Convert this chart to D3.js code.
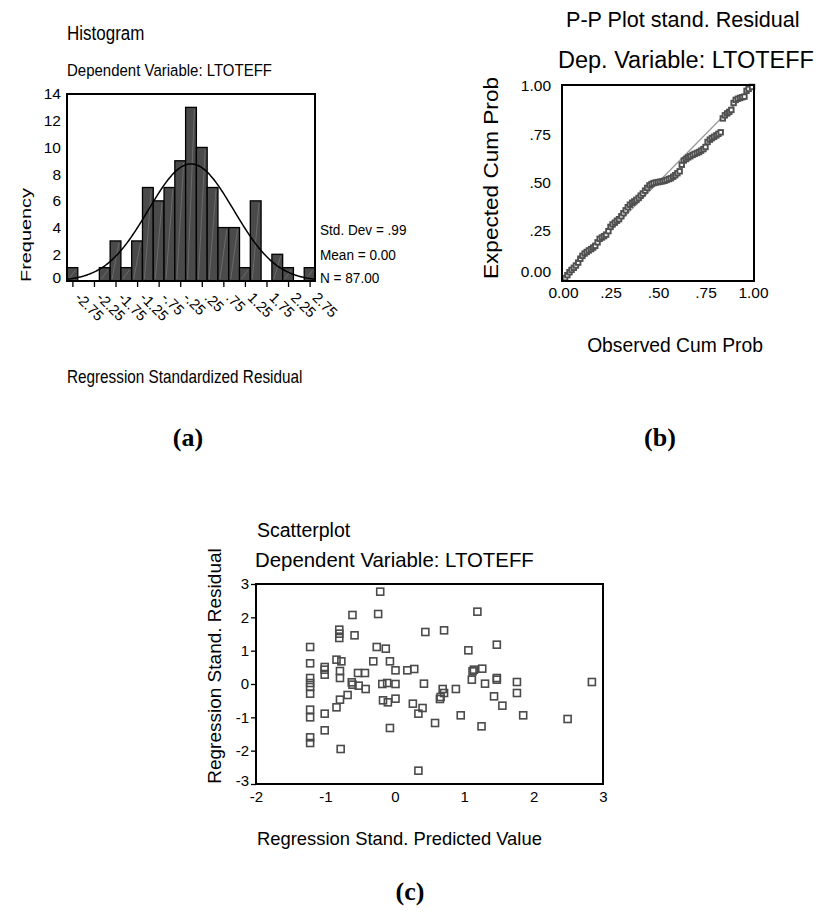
<!DOCTYPE html>
<html>
<head>
<meta charset="utf-8">
<script src="https://cdn.jsdelivr.net/npm/d3@7"></script>
<style>
  html, body { margin: 0; padding: 0; background: #fff; }
  svg { display: block; font-family: "Liberation Sans", Arial, Helvetica, sans-serif; }
  .lbl { font-family: "Liberation Serif", "Times New Roman", serif; font-weight: bold; }
</style>
</head>
<body>
<svg id="fig" width="821" height="916"></svg>
<script>
// ---------- (a) histogram of standardized residuals ----------
const histBinMids = [-2.75, -2.5, -2.25, -2, -1.75, -1.5, -1.25, -1, -0.75, -0.5, -0.25, 0,
                     0.25, 0.5, 0.75, 1, 1.25, 1.5, 1.75, 2, 2.25, 2.5, 2.75];
const histCounts  = [1, 0, 0, 1, 3, 1, 3, 7, 6, 7, 9, 13, 10, 7, 4, 4, 1, 6, 0, 2, 1, 0, 1];
const histTickValues = [-2.75, -2.25, -1.75, -1.25, -0.75, -0.25, 0.25, 0.75, 1.25, 1.75, 2.25, 2.75];
const histTickLabels = ["-2.75", "-2.25", "-1.75", "-1.25", "-.75", "-.25", ".25", ".75", "1.25", "1.75", "2.25", "2.75"];
const histYTicks = [0, 2, 4, 6, 8, 10, 12, 14];
const histStats = ["Std. Dev = .99", "Mean = 0.00", "N = 87.00"];
const residMean = 0.00, residSd = 0.99, residN = 87, binWidth = 0.25;

// ---------- (b) normal P-P plot ----------
const ppObserved = [0.011, 0.023, 0.034, 0.045, 0.057, 0.068, 0.080, 0.091, 0.102, 0.114, 0.125, 0.136,
  0.148, 0.159, 0.170, 0.182, 0.193, 0.205, 0.216, 0.227, 0.239, 0.250, 0.261, 0.273, 0.284, 0.295,
  0.307, 0.318, 0.330, 0.341, 0.352, 0.364, 0.375, 0.386, 0.398, 0.409, 0.420, 0.432, 0.443, 0.455,
  0.466, 0.477, 0.489, 0.500, 0.511, 0.523, 0.534, 0.545, 0.557, 0.568, 0.580, 0.591, 0.602, 0.614,
  0.625, 0.636, 0.648, 0.659, 0.670, 0.682, 0.693, 0.705, 0.716, 0.727, 0.739, 0.750, 0.761, 0.773,
  0.784, 0.795, 0.807, 0.818, 0.830, 0.841, 0.852, 0.864, 0.875, 0.886, 0.898, 0.909, 0.920, 0.932,
  0.943, 0.955, 0.966, 0.977, 0.995];
const ppExpected = [0.005, 0.020, 0.035, 0.047, 0.058, 0.070, 0.085, 0.105, 0.120, 0.132, 0.140, 0.148,
  0.155, 0.163, 0.172, 0.190, 0.208, 0.215, 0.222, 0.230, 0.248, 0.270, 0.283, 0.292, 0.302, 0.310,
  0.325, 0.341, 0.356, 0.372, 0.385, 0.395, 0.402, 0.410, 0.420, 0.432, 0.443, 0.458, 0.472, 0.485,
  0.492, 0.497, 0.500, 0.502, 0.504, 0.506, 0.509, 0.513, 0.518, 0.522, 0.530, 0.538, 0.548, 0.558,
  0.592, 0.614, 0.622, 0.630, 0.636, 0.643, 0.648, 0.653, 0.658, 0.665, 0.673, 0.684, 0.710, 0.722,
  0.730, 0.737, 0.744, 0.752, 0.760, 0.832, 0.848, 0.858, 0.866, 0.876, 0.912, 0.928, 0.934, 0.938,
  0.942, 0.945, 0.975, 0.985, 0.995];
const ppTickValues = [0, 0.25, 0.5, 0.75, 1];
const ppTickLabels = ["0.00", ".25", ".50", ".75", "1.00"];

// ---------- (c) residuals vs predicted values ----------
const scatterPred = [
  -1.22, -1.22, -1.22, -1.22, -1.22, -1.22, -1.22, -1.22, -1.22, -1.22,
  -1.01, -1.01, -1.01, -1.01, -1.01,
  -0.80, -0.80, -0.80, -0.84, -0.77, -0.79, -0.79, -0.84, -0.79, -0.78,
  -0.61, -0.58, -0.68, -0.62, -0.61, -0.53, -0.52, -0.43, -0.42, -0.31,
  -0.24, -0.21, -0.26, -0.13, -0.07, 0.01, -0.18, -0.11, 0.01, -0.17, -0.10, 0.01, -0.07,
  1.19, 0.44, 0.71, 1.06, 1.47, 0.18, 0.28, 0.42, 0.69, 0.71, 0.66, 0.65, 0.88, 1.12, 1.14,
  1.26, 1.11, 1.30, 1.47, 1.47, 1.76, 1.76, 2.84, 1.43, 1.55, 1.85, 2.49, 1.25, 0.95, 0.58,
  0.26, 0.34, 0.40, 0.34];
const scatterResid = [
  1.11, 0.62, 0.18, 0.03, -0.09, -0.29, -0.77, -1.00, -1.60, -1.77,
  0.51, 0.43, 0.28, -0.89, -1.39,
  1.63, 1.51, 1.38, 0.73, 0.68, 0.39, 0.18, -0.70, -0.47, -1.95,
  2.07, 1.46, -0.33, 0.05, -0.02, 0.33, -0.05, 0.33, -0.15, 0.68,
  2.10, 2.77, 1.11, 1.06, 0.68, 0.41, 0.00, 0.03, 0.00, -0.49, -0.55, -0.44, -1.32,
  2.17, 1.56, 1.61, 1.01, 1.18, 0.41, 0.45, 0.01, -0.15, -0.27, -0.39, -0.45, -0.15, 0.38, 0.43,
  0.46, 0.13, 0.01, 0.18, 0.13, 0.06, -0.27, 0.06, -0.37, -0.65, -0.94, -1.05, -1.27, -0.94, -1.17,
  -0.59, -0.89, -0.72, -2.60];
const scatterTicksX = [-2, -1, 0, 1, 2, 3];
const scatterTicksY = [-3, -2, -1, 0, 1, 2, 3];

const svg = d3.select("#fig");
svg.append("rect").attr("width", 821).attr("height", 916).attr("fill", "#fff");

function addText(g, str, x, y, size, opts = {}) {
  const t = g.append("text").attr("font-size", size).attr("fill", "#000").text(str);
  const tf = [`translate(${x},${y})`];
  if (opts.stretch) tf.push(`scale(1,${opts.stretch})`);
  if (opts.rotate) tf.push(`rotate(${opts.rotate})`);
  t.attr("transform", tf.join(" "));
  if (opts.anchor) t.attr("text-anchor", opts.anchor);
  if (opts.cls) t.attr("class", opts.cls);
  if (opts.length) t.attr("textLength", opts.length).attr("lengthAdjust", "spacingAndGlyphs");
  return t;
}

// ===== Panel (a) =====
{
  const g = svg.append("g");
  const x = d3.scaleLinear().domain([-2.875, 2.875]).range([67, 315]);
  const y = d3.scaleLinear().domain([0, 14]).range([281, 94]);

  addText(g, "Histogram", 67, 40, 17, { stretch: 1.15 });
  addText(g, "Dependent Variable: LTOTEFF", 67, 76, 15, { stretch: 1.15 });

  const bins = histBinMids.map((m, i) => ({ m, c: histCounts[i] })).filter(d => d.c > 0);
  g.selectAll("rect.bar").data(bins).join("rect").attr("class", "bar")
    .attr("x", d => x(d.m - binWidth / 2))
    .attr("y", d => y(d.c))
    .attr("width", d => x(d.m + binWidth / 2) - x(d.m - binWidth / 2))
    .attr("height", d => y(0) - y(d.c))
    .attr("fill", "#4a4a4a").attr("stroke", "#000").attr("stroke-width", 1.3);
  // faint fill-pattern stroke inside each bar
  g.selectAll("line.hatch").data(bins).join("line").attr("class", "hatch")
    .attr("x1", d => x(d.m - binWidth / 2) + 2).attr("y1", y(0) - 2)
    .attr("x2", d => x(d.m + binWidth / 2) - 2).attr("y2", d => y(d.c) + 2)
    .attr("stroke", "#9a9a9a").attr("stroke-width", 0.6).attr("opacity", 0.7);

  // fitted normal curve
  const pdf = v => Math.exp(-0.5 * ((v - residMean) / residSd) ** 2) / (residSd * Math.sqrt(2 * Math.PI));
  const curve = d3.range(-2.875, 2.876, 0.025).map(v => [v, residN * binWidth * pdf(v)]);
  g.append("path").datum(curve)
    .attr("d", d3.line().x(d => x(d[0])).y(d => y(d[1])).curve(d3.curveBasis))
    .attr("fill", "none").attr("stroke", "#000").attr("stroke-width", 1.5);

  g.append("rect").attr("x", 67).attr("y", 94).attr("width", 248).attr("height", 187)
    .attr("fill", "none").attr("stroke", "#000").attr("stroke-width", 2);

  const ya = g.append("g").attr("transform", "translate(67,0)")
    .call(d3.axisLeft(y).tickValues(histYTicks).tickSize(0).tickPadding(6).tickFormat(d => String(d)));
  ya.select(".domain").remove();
  ya.selectAll("text").attr("font-size", 15.5).attr("font-family", null).attr("fill", "#000");
  ya.selectAll(".tick").filter(d => d === 0).select("text").attr("dy", "0.1em");

  const xa = g.append("g").attr("transform", "translate(0,282)")
    .call(d3.axisBottom(x).tickValues(histTickValues).tickSize(5)
      .tickFormat((d, i) => histTickLabels[i]));
  xa.select(".domain").remove();
  xa.selectAll("line").attr("stroke", "#000").attr("stroke-width", 1.3);
  xa.selectAll("text").attr("font-size", 14.5).attr("font-family", null).attr("fill", "#000")
    .attr("text-anchor", "start").attr("x", 0).attr("y", 0).attr("dy", "0.35em")
    .attr("transform", "translate(5,13) rotate(45)");

  addText(g, "Frequency", 31, 235, 15, { anchor: "middle", rotate: -90, length: 94 });
  histStats.forEach((s, i) => addText(g, s, 320, [235, 260, 283][i], 13.6, { stretch: 1.1 }));
  addText(g, "Regression Standardized Residual", 67, 383, 15.3, { stretch: 1.15 });
  addText(g, "(a)", 188, 446, 26, { anchor: "middle", cls: "lbl" });
}

// ===== Panel (b) =====
{
  const g = svg.append("g");
  const x = d3.scaleLinear().domain([0, 1]).range([563, 753]);
  const y = d3.scaleLinear().domain([0, 1]).range([279, 86]);

  addText(g, "P-P Plot stand. Residual", 566, 27, 21.6);
  addText(g, "Dep. Variable: LTOTEFF", 558, 68, 23.5);

  g.append("line").attr("x1", x(0)).attr("y1", y(0)).attr("x2", x(1)).attr("y2", y(1))
    .attr("stroke", "#9a9a9a").attr("stroke-width", 1.3);

  const pts = ppObserved.map((o, i) => [o, ppExpected[i]]);
  const s = 4.5;
  g.selectAll("rect.pt").data(pts).join("rect").attr("class", "pt")
    .attr("x", d => x(d[0]) - s / 2).attr("y", d => y(d[1]) - s / 2)
    .attr("width", s).attr("height", s)
    .attr("fill", "#fff").attr("stroke", "#4f4f4f").attr("stroke-width", 1.9);

  g.append("rect").attr("x", 562).attr("y", 85).attr("width", 192).attr("height", 196)
    .attr("fill", "none").attr("stroke", "#000").attr("stroke-width", 2);

  const ya = g.append("g").attr("transform", "translate(562,0)")
    .call(d3.axisLeft(y).tickValues(ppTickValues).tickSize(0).tickPadding(11)
      .tickFormat((d, i) => ppTickLabels[i]));
  ya.select(".domain").remove();
  ya.selectAll("text").attr("font-size", 15.5).attr("font-family", null).attr("fill", "#000");
  ya.selectAll(".tick").filter(d => d === 0).select("text").attr("dy", "-0.15em");

  const xa = g.append("g").attr("transform", "translate(0,281)")
    .call(d3.axisBottom(x).tickValues(ppTickValues).tickSize(0).tickPadding(6)
      .tickFormat((d, i) => ppTickLabels[i]));
  xa.select(".domain").remove();
  xa.selectAll("text").attr("font-size", 15.5).attr("font-family", null).attr("fill", "#000");

  addText(g, "Expected Cum Prob", 498, 178, 21, { anchor: "middle", rotate: -90, length: 202 });
  addText(g, "Observed Cum Prob", 675, 352, 19.3, { anchor: "middle" });
  addText(g, "(b)", 660, 446, 26, { anchor: "middle", cls: "lbl" });
}

// ===== Panel (c) =====
{
  const g = svg.append("g");
  const x = d3.scaleLinear().domain([-2, 3]).range([256, 603]);
  const y = d3.scaleLinear().domain([-3, 3]).range([784, 584]);

  addText(g, "Scatterplot", 257, 537, 19.5);
  addText(g, "Dependent Variable: LTOTEFF", 255, 567, 20.4);

  const pts = scatterPred.map((p, i) => [p, scatterResid[i]]);
  const s = 7;
  g.selectAll("rect.pt").data(pts).join("rect").attr("class", "pt")
    .attr("x", d => x(d[0]) - s / 2).attr("y", d => y(d[1]) - s / 2)
    .attr("width", s).attr("height", s)
    .attr("fill", "none").attr("stroke", "#4a4a4a").attr("stroke-width", 1.6);

  g.append("rect").attr("x", 256).attr("y", 584).attr("width", 347).attr("height", 200)
    .attr("fill", "none").attr("stroke", "#000").attr("stroke-width", 2);

  const ya = g.append("g").attr("transform", "translate(256,0)")
    .call(d3.axisLeft(y).tickValues(scatterTicksY).tickSize(5).tickPadding(2).tickFormat(d => String(d)));
  ya.select(".domain").remove();
  ya.selectAll("line").attr("stroke", "#000").attr("stroke-width", 1.3);
  ya.selectAll("text").attr("font-size", 15).attr("font-family", null).attr("fill", "#000");
  ya.selectAll(".tick").filter(d => d === -3).select("text").attr("dy", "0.12em");

  const xa = g.append("g").attr("transform", "translate(0,784)")
    .call(d3.axisBottom(x).tickValues(scatterTicksX).tickSize(0).tickPadding(7).tickFormat(d => String(d)));
  xa.select(".domain").remove();
  xa.selectAll("text").attr("font-size", 15).attr("font-family", null).attr("fill", "#000");

  addText(g, "Regression Stand. Residual", 221, 666, 19, { anchor: "middle", rotate: -90 });
  addText(g, "Regression Stand. Predicted Value", 257, 845, 18.4);
  addText(g, "(c)", 410, 900, 26, { anchor: "middle", cls: "lbl" });
}
</script>
</body>
</html>
